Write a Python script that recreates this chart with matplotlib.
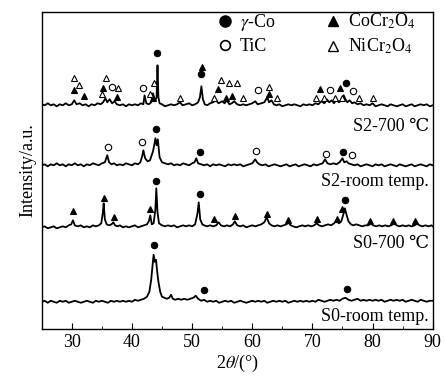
import numpy as np
import matplotlib
matplotlib.use('Agg')
import matplotlib.pyplot as plt
from matplotlib.lines import Line2D

plt.rcParams['font.family'] = ['Liberation Serif', 'DejaVu Serif']
plt.rcParams['mathtext.fontset'] = 'stix'

# XRD traces: (2theta, intensity above own baseline)
s2_700 = [(25.0, 1), (25.5, 0), (26, 2), (26.5, 0), (27, 1), (27.5, -1), (28, 1), (28.5, 0), (29, 2), (29.5, 0),
          (30, 1), (30.4, 5), (30.8, 1), (31.3, 2), (31.8, 0), (32.3, 1), (32.8, -1), (33.3, 1), (33.8, 0), (34.3, 2),
          (34.8, 1), (35.2, 3), (35.6, 7), (35.9, 3), (36.3, 6), (36.7, 2), (37.1, 4), (37.5, 1), (38, 0), (38.5, 1),
          (39, -1), (39.5, 1), (40, 0), (40.5, 1), (41, 0), (41.5, 2), (41.9, 1), (42.1, 10), (42.4, 2), (42.8, 1),
          (43.2, 3), (43.5, 12), (43.8, 4), (44.1, 8), (44.25, 40), (44.4, 8), (44.6, 2), (45, 1), (45.5, -1), (46, 0),
          (46.5, 1), (47, 0), (47.5, 1), (48, 3), (48.4, 0), (49, 1), (49.5, 2), (50, 0), (50.5, 1), (51, 3),
          (51.3, 8), (51.55, 19), (51.8, 6), (52.1, 1), (52.5, 0), (53, 2), (53.5, 3), (54, 5), (54.4, 2), (55, 4),
          (55.4, 2), (55.8, 5), (56.2, 1), (56.6, 2), (57, 4), (57.5, 1), (58, 0), (58.5, 1), (59, 0), (59.5, 1),
          (60, 2), (60.5, 4), (60.9, 1), (61.5, 2), (62, 3), (62.5, 8), (62.8, 3), (63.2, 5), (63.6, 1), (64, 0),
          (64.5, 1), (65, -1), (65.5, 0), (66, 1), (66.5, 0), (67, 1), (67.5, 0), (68, -1), (68.5, 1), (69, 0),
          (69.5, 1), (70, 0), (70.5, 2), (71, 1), (71.5, 4), (72, 2), (72.4, 6), (72.8, 3), (73.2, 5), (73.6, 2),
          (74, 6), (74.4, 3), (74.8, 5), (75.2, 10), (75.5, 6), (75.8, 3), (76.2, 5), (76.6, 2), (77, 3), (77.5, 1),
          (78, 2), (78.5, 0), (79, 1), (79.5, 0), (80, 2), (80.5, -1), (81, 0), (81.5, 1), (82, 0), (82.5, -1),
          (83, 1), (83.5, 0), (84, -1), (84.5, 0), (85, 1), (85.5, -1), (86, 0), (86.5, 1), (87, -1), (87.5, 0),
          (88, 1), (88.5, 0), (89, 1), (89.5, -1), (90, 0)]

s2_room = [(25, 0), (25.5, 1), (26, -1), (26.5, 1), (27, 0), (27.5, 2), (28, 0), (28.5, 1), (29, -1), (29.5, 1),
           (30, 0), (30.5, 2), (31, 0), (31.5, 1), (32, -1), (32.5, 1), (33, 0), (33.5, 2), (34, 1), (34.5, 0),
           (35, 2), (35.5, 3), (35.9, 10), (36.2, 3), (36.6, 1), (37, 2), (37.5, 0), (38, 1), (38.5, 0), (39, 2),
           (39.5, 1), (40, 0), (40.5, 2), (41, 1), (41.4, 3), (41.7, 9), (41.9, 15), (42.2, 7), (42.6, 4), (43, 5),
           (43.5, 14), (43.7, 20), (43.9, 27), (44.1, 20), (44.3, 26), (44.6, 8), (45, 3), (45.5, 2), (46, 1), (46.5, 2),
           (47, 0), (47.5, 1), (48, 0), (48.5, 2), (49, 1), (49.5, 0), (50, 2), (50.4, 3), (50.7, 7), (51, 2),
           (51.5, 1), (52, 0), (52.5, 1), (53, -1), (53.5, 1), (54, 0), (54.5, 1), (55, 0), (55.5, -1), (56, 1),
           (56.5, 0), (57, 1), (57.5, 0), (58, 1), (58.5, -1), (59, 0), (59.5, 1), (60, 2), (60.5, 6), (60.8, 3),
           (61.2, 1), (61.7, 0), (62.2, 1), (62.7, -1), (63.2, 0), (63.7, 1), (64.2, 0), (64.7, -1), (65.2, 0), (65.7, 1),
           (66.2, -1), (66.7, 0), (67.2, 1), (67.7, -1), (68.2, 0), (68.7, 1), (69.2, 0), (69.7, -1), (70.2, 1), (70.7, 0),
           (71.2, 1), (71.7, 2), (72.1, 6), (72.5, 2), (73, 1), (73.5, 2), (74, 1), (74.5, 3), (75, 7), (75.3, 3),
           (75.7, 4), (76, 2), (76.5, 1), (77, 0), (77.5, 1), (78, -1), (78.5, 0), (79, 1), (79.5, 0), (80, -1),
           (80.5, 1), (81, 0), (81.5, 1), (82, -1), (82.5, 0), (83, 1), (83.5, 0), (84, -1), (84.5, 1), (85, 0),
           (85.5, -1), (86, 0), (86.5, 1), (87, -1), (87.5, 0), (88, 1), (88.5, 0), (89, -1), (89.5, 1), (90, 0)]

s0_700 = [(25, 0), (25.5, 1), (26, -1), (26.5, 0), (27, 1), (27.5, -1), (28, 0), (28.5, 1), (29, 0), (29.5, 2),
          (29.9, 3), (30.2, 7), (30.5, 2), (31, 1), (31.5, 2), (32, 0), (32.5, 1), (33, 0), (33.5, 2), (34, 1),
          (34.5, 2), (34.9, 4), (35.15, 14), (35.3, 24), (35.5, 8), (35.8, 3), (36.2, 2), (36.6, 3), (36.9, 5), (37.2, 2),
          (37.6, 1), (38, 2), (38.5, 0), (39, 1), (39.5, 0), (40, 1), (40.5, 2), (41, 0), (41.5, 1), (42, 2),
          (42.5, 3), (42.8, 6), (43.05, 12), (43.3, 3), (43.6, 4), (43.9, 18), (44.05, 39), (44.25, 15), (44.5, 4), (45, 2),
          (45.5, 1), (46, 2), (46.5, 1), (47, 2), (47.5, 0), (48, 1), (48.5, 2), (49, 1), (49.5, 2), (50, 1),
          (50.5, 3), (50.9, 14), (51.1, 25), (51.35, 8), (51.7, 3), (52, 2), (52.5, 1), (53, 2), (53.5, 1), (54, 2),
          (54.4, 5), (54.8, 2), (55.3, 1), (55.8, 2), (56.3, 1), (56.8, 3), (57.1, 6), (57.5, 2), (58, 1), (58.5, 2),
          (59, 0), (59.5, 1), (60, 2), (60.5, 1), (61, 2), (61.5, 3), (62, 5), (62.4, 10), (62.8, 4), (63.2, 2),
          (63.7, 1), (64.2, 2), (64.7, 1), (65.2, 2), (65.7, 3), (66, 5), (66.4, 2), (66.8, 1), (67.3, 0), (67.8, 1),
          (68.3, 2), (68.8, 1), (69.3, 2), (69.8, 1), (70.3, 2), (70.7, 4), (71.1, 2), (71.6, 1), (72.1, 2), (72.6, 3),
          (73.1, 2), (73.6, 4), (74, 7), (74.4, 4), (74.8, 6), (75.1, 12), (75.4, 19), (75.7, 12), (76, 6), (76.4, 3),
          (76.8, 2), (77.3, 3), (77.8, 2), (78.3, 1), (78.8, 2), (79.3, 2), (79.7, 4), (80.1, 2), (80.6, 1), (81.1, 2),
          (81.6, 1), (82.1, 2), (82.6, 1), (83.1, 2), (83.6, 4), (84, 2), (84.5, 1), (85, 2), (85.5, 1), (86, 2),
          (86.5, 1), (87, 2), (87.4, 4), (87.8, 2), (88.3, 1), (88.8, 2), (89.3, 1), (89.8, 2), (90, 1)]

s0_room = [(25, 0), (25.5, 1), (26, -1), (26.5, 1), (27, 0), (27.5, -1), (28, 1), (28.5, 0), (29, 1), (29.5, -1),
           (30, 0), (30.5, 1), (31, 0), (31.5, -1), (32, 0), (32.5, 1), (33, 0), (33.5, -1), (34, 1), (34.5, 0),
           (35, 1), (35.5, 0), (36, -1), (36.5, 1), (37, 0), (37.5, 1), (38, 0), (38.5, 1), (39, 0), (39.5, 1),
           (40, 0), (40.5, 2), (41, 1), (41.5, 2), (42, 3), (42.5, 5), (42.9, 10), (43.2, 22), (43.4, 35), (43.6, 47),
           (43.8, 40), (44.0, 42), (44.2, 30), (44.4, 20), (44.7, 10), (45, 5), (45.4, 4), (45.8, 3), (46.2, 4), (46.5, 7),
           (46.8, 3), (47.2, 2), (47.7, 3), (48.2, 2), (48.7, 3), (49.2, 2), (49.7, 3), (50.2, 4), (50.6, 6), (51, 3),
           (51.5, 1), (52, 2), (52.5, 0), (53, 1), (53.5, 0), (54, 1), (54.5, -1), (55, 0), (55.5, 1), (56, 0),
           (56.5, 1), (57, -1), (57.5, 0), (58, 1), (58.5, 0), (59, -1), (59.5, 0), (60, 1), (60.5, 0), (61, 1),
           (61.5, 0), (62, 1), (62.5, -1), (63, 0), (63.5, 1), (64, 0), (64.5, 1), (65, 0), (65.5, 1), (66, -1),
           (66.5, 0), (67, 1), (67.5, 0), (68, 1), (68.5, 0), (69, 1), (69.5, 0), (70, 1), (70.5, 0), (71, 2),
           (71.5, 1), (72, 0), (72.5, 1), (73, 2), (73.5, 1), (74, 2), (74.5, 1), (75, 3), (75.5, 4), (76, 2),
           (76.5, 1), (77, 2), (77.5, 3), (78, 1), (78.5, 2), (79, 1), (79.5, 2), (80, 1), (80.5, 2), (81, 1),
           (81.5, 2), (82, 0), (82.5, 1), (83, 2), (83.5, 1), (84, 2), (84.5, 1), (85, 2), (85.5, 0), (86, 1),
           (86.5, 2), (87, 1), (87.5, 0), (88, 2), (88.5, 1), (89, 0), (89.5, 1), (90, 1)]

traces = [s2_700, s2_room, s0_700, s0_room]
labels = ["S2-700 \u2103", "S2-room temp.", "S0-700 \u2103", "S0-room temp."]
offsets = [224, 164, 102, 27.6]
label_y = [202.6, 147.6, 86, 12.6]

# phase markers (2theta, y in plot units)
co_pts = [(44.2, 276), (51.42, 255), (75.58, 246),
          (44.03, 200), (51.25, 177.6), (75.13, 177.6),
          (44.03, 148.6), (51.25, 135.3), (75.42, 129.3),
          (43.63, 84.3), (51.92, 39.3), (75.7, 40)]
tic_pts = [(36.7, 242.6), (41.8, 241), (60.97, 239.3), (72.92, 239.3), (76.8, 238.3),
           (35.97, 182.6), (41.7, 187.6), (60.58, 178.6), (72.2, 175.3), (76.53, 174.3)]
cocr_pts = [(30.3, 239.3), (32.08, 233.6), (35.25, 241), (37.47, 232), (43.42, 230.8), (51.63, 262.6),
            (54.3, 240), (55.58, 231.6), (56.7, 233.6), (62.75, 235), (71.25, 240.3), (74.58, 241.6),
            (30.13, 118.6), (35.3, 131.6), (37.08, 112), (43.03, 120), (53.58, 110.3), (57.08, 113.6),
            (62.47, 115.3), (65.97, 109.3), (70.8, 110), (74.13, 110.3), (74.87, 120), (79.58, 108.6),
            (83.47, 108.6), (87.08, 108.6)]
nicr_pts = [(30.3, 251), (31.25, 244.3), (35.7, 251.6), (37.63, 241), (35.03, 235.3), (43.63, 246),
            (43.08, 235), (47.92, 231.6), (54.75, 249.3), (56.13, 246), (57.53, 246), (53.63, 231.6),
            (58.47, 231.6), (62.8, 242.6), (64.13, 231.6), (70.65, 231.6), (71.95, 231), (73.7, 231),
            (74.9, 231), (77.75, 231), (80.1, 231)]

fig = plt.figure(figsize=(4.46, 3.76), dpi=100)
ax = fig.add_axes([0.0935, 0.124, 0.8767, 0.845])

for tr, off, lab, ly in zip(traces, offsets, labels, label_y):
    d = np.array(tr)
    ax.plot(d[:, 0], d[:, 1] + off, color='black', lw=1.3)
    ax.text(89.4, ly, lab, ha='right', va='center', fontsize=13)

ms = 4.6
for pts, mk, fc in [(co_pts, 'o', 'black'), (tic_pts, 'o', 'white'),
                    (cocr_pts, '^', 'black'), (nicr_pts, '^', 'white')]:
    p = np.array(pts)
    ax.plot(p[:, 0], p[:, 1], ls='none', marker=mk, ms=ms, mfc=fc, mec='black', mew=0.8)

handles = [Line2D([], [], ls='none', marker='o', ms=8, mfc='black', mec='black'),
           Line2D([], [], ls='none', marker='o', ms=7, mfc='white', mec='black', mew=1.2),
           Line2D([], [], ls='none', marker='^', ms=7, mfc='black', mec='black'),
           Line2D([], [], ls='none', marker='^', ms=7, mfc='white', mec='black', mew=1.0)]
names = [r'$\gamma$-Co', 'TiC', r'CoCr$_2$O$_4$', r'NiCr$_2$O$_4$']
ax.legend(handles, names, ncol=2, frameon=False, loc='upper left', bbox_to_anchor=(0.41, 1.05),
          fontsize=13, handlelength=0.8, handletextpad=0.4, columnspacing=2.8, labelspacing=0.3)

ax.set_xlim(25, 90)
ax.set_ylim(0, 317.6)
ax.set_xticks(range(30, 91, 10))
ax.set_xticks(range(25, 91, 5), minor=True)
ax.tick_params(axis='x', direction='in', length=4, labelsize=13, top=False)
ax.tick_params(axis='x', which='minor', direction='in', length=2, top=False)
ax.set_yticks([])
ax.set_xlabel(r'2$\theta$/(°)', fontsize=13, labelpad=1)
ax.set_ylabel('Intensity/a.u.', fontsize=13, labelpad=4)
for s in ax.spines.values():
    s.set_linewidth(1.0)

fig.savefig('out.png', dpi=100)
